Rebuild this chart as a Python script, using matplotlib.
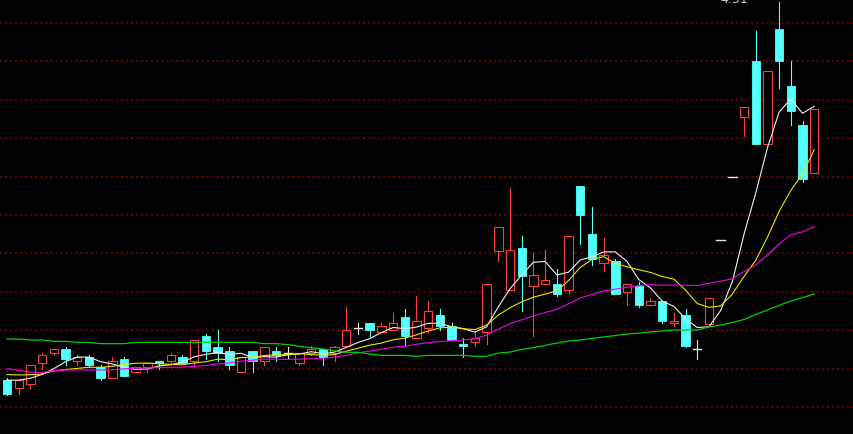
import numpy as np
import matplotlib
matplotlib.use("Agg")
import matplotlib.pyplot as plt
from matplotlib.patches import Rectangle

# ---- daily candles (price) ----
opens = [2.54, 2.50, 2.52, 2.63, 2.68, 2.70, 2.64, 2.66, 2.61, 2.55,
         2.65, 2.58, 2.61, 2.64, 2.64, 2.66, 2.64, 2.77, 2.71, 2.69,
         2.58, 2.69, 2.64, 2.69, 2.68, 2.63, 2.68, 2.70, 2.68, 2.72,
         2.81, 2.84, 2.79, 2.80, 2.87, 2.76, 2.81, 2.88, 2.82, 2.73,
         2.74, 2.79, 3.21, 3.01, 3.23, 3.03, 3.04, 3.04, 3.01, 3.55,
         3.30, 3.15, 3.16, 3.00, 3.03, 2.93, 2.95, 2.84, 2.88, 2.70,
         2.83, 3.27, 3.60, 3.91, 4.20, 3.77, 4.37, 4.07, 3.87, 3.62]
highs = [2.55, 2.54, 2.62, 2.68, 2.70, 2.71, 2.67, 2.67, 2.62, 2.66,
         2.66, 2.61, 2.63, 2.64, 2.68, 2.67, 2.75, 2.78, 2.80, 2.71,
         2.66, 2.69, 2.71, 2.71, 2.71, 2.68, 2.72, 2.70, 2.72, 2.92,
         2.84, 2.84, 2.84, 2.89, 2.91, 2.98, 2.95, 2.91, 2.84, 2.76,
         2.79, 3.04, 3.34, 3.54, 3.29, 3.20, 3.22, 3.12, 3.29, 3.55,
         3.44, 3.28, 3.17, 3.04, 3.05, 2.97, 2.95, 2.89, 2.91, 2.75,
         2.97, 3.27, 3.60, 3.96, 4.36, 4.15, 4.51, 4.20, 3.89, 3.95]
lows = [2.46, 2.47, 2.50, 2.60, 2.67, 2.62, 2.62, 2.61, 2.54, 2.55,
        2.56, 2.58, 2.58, 2.60, 2.63, 2.63, 2.62, 2.65, 2.64, 2.60,
        2.58, 2.58, 2.62, 2.64, 2.65, 2.62, 2.67, 2.62, 2.64, 2.72,
        2.78, 2.77, 2.79, 2.80, 2.72, 2.76, 2.79, 2.80, 2.75, 2.66,
        2.72, 2.73, 3.16, 3.01, 2.90, 2.77, 3.04, 2.98, 2.99, 3.25,
        3.14, 3.11, 2.99, 2.93, 2.92, 2.93, 2.84, 2.82, 2.71, 2.65,
        2.83, 3.27, 3.60, 3.81, 3.77, 3.77, 4.06, 3.87, 3.57, 3.62]
closes = [2.47, 2.54, 2.62, 2.67, 2.70, 2.65, 2.66, 2.62, 2.55, 2.64,
          2.56, 2.61, 2.63, 2.63, 2.67, 2.63, 2.75, 2.69, 2.68, 2.62,
          2.66, 2.64, 2.71, 2.67, 2.68, 2.68, 2.70, 2.66, 2.71, 2.80,
          2.81, 2.80, 2.82, 2.84, 2.77, 2.85, 2.90, 2.82, 2.75, 2.72,
          2.76, 3.04, 3.34, 3.22, 3.08, 3.09, 3.06, 2.99, 3.29, 3.40,
          3.17, 3.19, 2.99, 3.04, 2.93, 2.95, 2.85, 2.85, 2.72, 2.70,
          2.97, 3.27, 3.60, 3.96, 3.77, 4.15, 4.20, 3.94, 3.59, 3.95]

# ---- moving-average lines as drawn on the chart ----
ma5 = [2.540, 2.540, 2.550, 2.570, 2.600, 2.636, 2.660, 2.660, 2.636, 2.624,
       2.606, 2.596, 2.598, 2.614, 2.620, 2.634, 2.662, 2.674, 2.684, 2.674,
       2.680, 2.658, 2.662, 2.660, 2.672, 2.676, 2.688, 2.678, 2.686, 2.710,
       2.736, 2.756, 2.788, 2.814, 2.808, 2.816, 2.836, 2.836, 2.818, 2.808,
       2.790, 2.818, 2.922, 3.016, 3.088, 3.154, 3.158, 3.088, 3.102, 3.166,
       3.182, 3.208, 3.208, 3.158, 3.064, 3.020, 2.952, 2.924, 2.860, 2.814,
       2.818, 2.902, 3.052, 3.300, 3.514, 3.750, 3.936, 4.004, 3.930, 3.966]
ma10 = [2.569, 2.567, 2.568, 2.572, 2.588, 2.595, 2.601, 2.607, 2.607, 2.612,
        2.621, 2.628, 2.629, 2.625, 2.622, 2.620, 2.629, 2.636, 2.649, 2.647,
        2.657, 2.660, 2.668, 2.672, 2.673, 2.678, 2.673, 2.670, 2.673, 2.691,
        2.706, 2.722, 2.733, 2.750, 2.759, 2.776, 2.796, 2.812, 2.816, 2.808,
        2.803, 2.827, 2.879, 2.917, 2.948, 2.972, 2.988, 3.005, 3.059, 3.127,
        3.168, 3.183, 3.148, 3.130, 3.115, 3.101, 3.080, 3.066, 3.009, 2.939,
        2.919, 2.927, 2.988, 3.080, 3.164, 3.284, 3.419, 3.528, 3.615, 3.740]
ma20 = [2.600, 2.590, 2.582, 2.580, 2.590, 2.593, 2.593, 2.593, 2.593, 2.594,
        2.599, 2.603, 2.603, 2.606, 2.607, 2.608, 2.611, 2.616, 2.624, 2.630,
        2.639, 2.644, 2.649, 2.649, 2.648, 2.649, 2.651, 2.653, 2.661, 2.669,
        2.682, 2.691, 2.701, 2.711, 2.716, 2.727, 2.735, 2.741, 2.745, 2.750,
        2.755, 2.775, 2.806, 2.834, 2.854, 2.874, 2.892, 2.909, 2.938, 2.968,
        2.986, 3.005, 3.014, 3.024, 3.032, 3.037, 3.034, 3.036, 3.034, 3.033,
        3.044, 3.055, 3.068, 3.105, 3.140, 3.193, 3.250, 3.297, 3.312, 3.340]
ma60 = [2.754, 2.754, 2.749, 2.749, 2.742, 2.742, 2.737, 2.737, 2.730, 2.730,
        2.730, 2.737, 2.737, 2.737, 2.737, 2.737, 2.737, 2.737, 2.737, 2.737,
        2.737, 2.737, 2.730, 2.730, 2.725, 2.716, 2.709, 2.702, 2.693, 2.685,
        2.685, 2.676, 2.669, 2.669, 2.669, 2.664, 2.669, 2.669, 2.669, 2.669,
        2.664, 2.664, 2.681, 2.686, 2.700, 2.710, 2.721, 2.733, 2.744, 2.749,
        2.757, 2.765, 2.772, 2.780, 2.785, 2.791, 2.796, 2.801, 2.801, 2.801,
        2.817, 2.827, 2.840, 2.856, 2.882, 2.905, 2.929, 2.952, 2.970, 2.989]

grid_levels = [2.4, 2.6, 2.8, 3.0, 3.2, 3.4, 3.6, 3.8, 4.0, 4.2, 4.4]
high_label = "4.51"

UP = "#ff3c3c"
DOWN = "#54ffff"
FLAT = "#e8e8e8"

fig = plt.figure(figsize=(8.54, 4.35), dpi=100, facecolor="black")
ax = fig.add_axes([0, 0, 1, 1], facecolor="black")
ax.set_xlim(-0.6, 72.4)
ax.set_ylim(2.2594, 4.525)
ax.axis("off")

for g in grid_levels:
    ax.axhline(g, color="#8a0000", lw=1.1, linestyle=(0, (1.3, 2.0)), zorder=0)

x = np.arange(len(closes))
w = 0.72
for i in x:
    o, h, l, c = opens[i], highs[i], lows[i], closes[i]
    if c > o:
        if h > c:
            ax.plot([i, i], [c, h], color=UP, lw=0.8, zorder=2)
        if l < o:
            ax.plot([i, i], [l, o], color=UP, lw=0.8, zorder=2)
        ax.add_patch(Rectangle((i - w / 2, o), w, c - o, facecolor="black",
                               edgecolor=UP, lw=0.8, zorder=3))
    elif c < o:
        ax.plot([i, i], [l, h], color=DOWN, lw=0.8, zorder=2)
        ax.add_patch(Rectangle((i - w / 2, c), w, o - c, facecolor=DOWN,
                               edgecolor=DOWN, lw=0.6, zorder=3))
    else:
        ax.plot([i, i], [l, h], color=FLAT, lw=0.8, zorder=2)
        ax.plot([i - w / 2, i + w / 2], [o, o], color=FLAT, lw=1.0, zorder=3)

ax.plot(x, ma5, color="#f0f0f0", lw=0.8, zorder=5)
ax.plot(x, ma10, color="#e8e800", lw=0.8, zorder=5)
ax.plot(x, ma20, color="#ee00ee", lw=0.8, zorder=5)
ax.plot(x, ma60, color="#00d000", lw=0.9, zorder=5)

fig.text(720 / 854, 1 - 2.7 / 435, high_label, color="#c8c8c8", fontsize=9,
         ha="left", va="baseline")

fig.savefig("out.png", dpi=100, facecolor="black")
